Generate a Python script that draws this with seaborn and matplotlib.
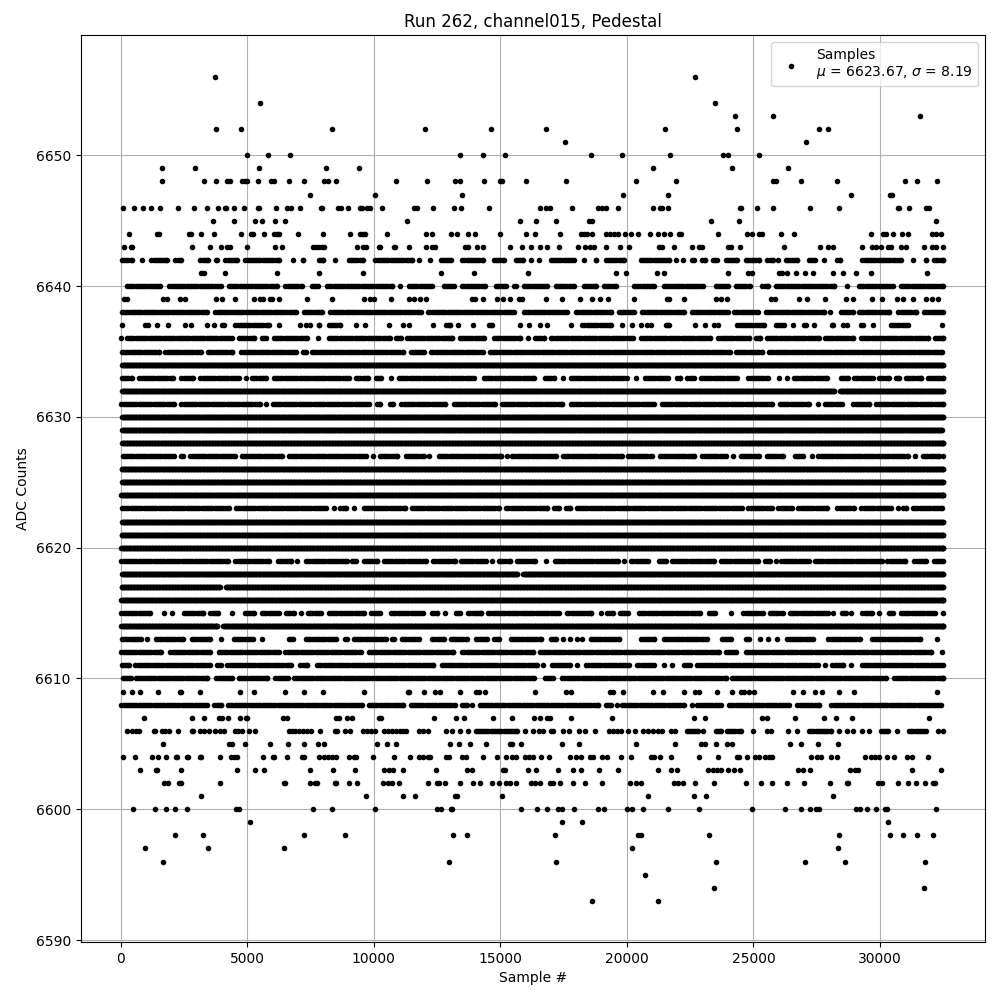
import numpy as np
import pandas as pd
import matplotlib
matplotlib.use("Agg")
import matplotlib.pyplot as plt
import seaborn as sns

# Values. A bare number is one isolated sample; a tuple is a visible
# stretch (first, last sample #) where dots merge and single samples cannot be told apart.
row_6656 = [3728, 22701]
row_6654 = [5507, 23492]
row_6653 = [24282, 25784, 31594]
row_6652 = [3768, 4756, 8353, 12029, 14637, 16811, 21515, 24361, 27602, 27958]
row_6651 = [17562, 27088]
row_6650 = [5000, 5823, 6693, 13412, 14321, 15191, 18590, 19815, 21712, 23808, 24005, 25231]
row_6649 = [1633, 2938, 5467, 8116, 9420, 21040, 24163, 26377]
row_6648 = [1633, 3294, 3768, 4203, 4321, 4795, 4914, 5000, 5428, 5942, 6060, 6653, 7246, 8037, 8195, 8511,
            10883, 12108, 13215, 13412, 14361, 14993, 15072, 16021, 17602, 20369, 21950,
            25784, 25903, 26891, 28313, 31001, 31476, 32266]
row_6647 = [7483, 10052, 13491, 19855, 21633, 28867, 30408, 30487]
row_6646 = [92, 527, 883, 1199, 1555, 2266, 2898, 3412, 3847, 4124, 4163, 4479, 4875, 5428, 5467, 6140, 6574, 6733,
            7088, 7918, 7958, 8590, 8708, 8985, 9460, 9539, 9736, 9855, 10329, 11594, 11713, 12345, 13175, 13451,
            14558, 16574, 16811, 16969, 17839, 18867, 19025, 19183, 19657, 21040, 21317, 21396, 21633,
            24480, 24519, 25152, 25784, 27246, 28393, 30725, 30764, 31159, 31831, 31950]
row_6645 = [3649, 4479, 5309, 5586, 6100, 6495, 11317, 15783, 16416, 17206, 18511, 18630, 23333, 24440, 32226]
row_6644 = [329, 1436, 1515, 2701, 2780, 3175, 3689, 4756, 5151, 5230, 5665, 6060, 6179, 6258, 7009, 8000, 9064,
            9460, 9578, 9657, 10527, 12068, 12305, 13056, 13293, 13728, 14005, 14993, 16021, 16376, 17365,
            18195, 18313, 18432, 18630, 19183, 19341, 19499, 19657, 19934, 20171, 20447, 20922, 21238, 21475, 21712,
            22068, 22148, 23610, 24756, 24954, 25231, 25349, 26100, 26614, 29657, 30132, 30250, 30527, 30883, 31120,
            32068, 32226, 32424]
row_6643 = [132, 408, 448, 2819, 3531, 3965, 4203, 4321, 5000, 6100, 6377, 7602, 7720, 7839, 7958, 8037, 9341,
            9578, 9697, 10210, 10263, 10804, 10856, 11396, 12068, 12305, 12424, 13610, 13728, 14084, 14321, 15388,
            15863, 16218, 16574, 16851, 17325, 18076, 18353, 18550, 18709, 19183, 19736, 20092, 21278, 21396, 21871,
            22582, 22859, 22978, 24005, 24124, 24480, 26219, 27642, 27958, 28156, 29302, 29697, 29855, 30053,
            30329, 30448, 30843, 31041, 31752, 32068, 32226, 32503]
row_6642 = [(-40, 553), 843, (1120, 1910), (2068, 2464), (3056, 3544), (3689, 3913), (4045, 4703), (4835, 6350), 6811,
            (7101, 7312), (7734, 8102), (8392, 8524), (8919, 9683), (9973, 11620), 11778, 12213, (12543, 13136),
            (13399, 14427), (14651, 15244), (15507, 15981), 16218, 16535, (16890, 18010), 18313, (18669, 18867),
            (19064, 19986), (20448, 21765), 21950, 22227, (22464, 22727), (22885, 23175), (23307, 23650),
            (23808, 24440), (24598, 25323), (25455, 25850), 25982, (26179, 26812), (27101, 27523), (27694, 27866),
            (28221, 28511), (29209, 30922), 31318, (31713, 31910), (32042, 32600)]
row_6641 = [3175, 3294, 4124, 6179, 7839, 9578, 12661, 13965, 16100, 19578, 19973, 21198, 21475, 24005, 24796, 24954,
            26021, 26140, 26337, 26693, 27049, 27365, 28156, 28551, 29065, 29657, 31871]
row_6640 = [(158, 1647), (1831, 4045), (4176, 6284), (6416, 7273), (7470, 7892), (8063, 10830), 11027, (11291, 12411),
            (12674, 13267), (13399, 14479), (14716, 15309), (15441, 15705), (15836, 16956), (17088, 18010),
            (18208, 18867), (19000, 19657), (20184, 21172), (21370, 23083), (23412, 24071), (24203, 24967),
            (25257, 25652), (25784, 28287), (28617, 28748), (29078, 30593), (30725, 32600)]
row_6639 = [132, 250, 1673, 1831, 2345, 2543, 3768, 4005, 4519, 5270, 5507, 5626, 5902, 5981, 6258, 7365, 8353, 9618,
            9855, 10012, 10685, 11396, 11594, 11831, 12068, 13886, 14005, 14321, 14875, 15112, 15388, 15744, 15863,
            16811, 17444, 18155, 18630, 18946, 19262, 20289, 21594, 21673, 22266, 23531, 23729, 23966, 25705, 25863,
            26812, 27128, 27839, 28669, 28946, 29697, 30092, 30685, 30922, 31318, 31831, 32068, 32306]
row_6638 = [(-40, 3517), (3649, 7009), (7141, 8063), (8195, 11950), (12055, 15639), (15836, 17720), (17905, 19460),
            (19591, 20355), (20514, 22358), (22464, 24071), (24137, 25257), (25389, 27892), 28024, (28353, 29012),
            (29078, 30461), (30632, 31515), (31647, 32600)]
row_6637 = [40, 962, 1080, 1436, 1871, 2543, 2780, 3412, 3689, (3926, 4176), (4440, 5955), 6245, 7088, 7325, 7470,
            (7734, 7931), (8129, 8748), (9222, 9341), 9657, 10606, 11159, 11396, 12345, (12740, 13109), 13333, 13926,
            (14453, 14782), 15783, 16139, 16574, 16851, (17720, 17879), (18142, 19460), 19789, 20184, 20566, 20777,
            20961, (21436, 21765), 22701, 23096, 23452, 23610, (24269, 25521), (25784, 26311), 26574, (26904, 27167),
            27404, (28024, 28221), 28551, 28709, (29144, 29407), 29736, (30329, 31186), 32464]
row_6636 = [27, (158, 4506), (4572, 5362), (5494, 5823), (5955, 7470), 7786, (8129, 10738), (10790, 11159),
            (11225, 13201), (13294, 14453), (14651, 15876), 16073, (16271, 16825), (16917, 20316), (20448, 23373),
            (23518, 24901), (24994, 25362), (25428, 27694), (27721, 29038), (29144, 32003), (32069, 32600)]
row_6635 = [(-40, 1607), (1673, 3254), (3360, 4506), (4677, 7009), (7101, 7404), (7470, 11265), (11357, 12081),
            (12174, 14400), (14493, 24163), (24203, 25415), (25520, 32543)]
row_6634 = [(-40, 32600)]
row_6633 = [(-40, 553), (646, 2174), (2305, 2964), (3056, 4769), 4967, (5099, 5823), (5955, 9117), (9209, 9868),
            (10000, 10395), 10698, (10896, 14058), (14255, 16429), (16666, 17220), 17483, (17681, 20079), 20342,
            (20606, 21726), (21897, 22200), (22293, 22727), (22820, 24427), (24704, 25652), 26021, 26337,
            (26509, 27984), (28353, 28814), (28880, 29802), (29868, 30461), (30527, 30856), (30922, 31713),
            (31779, 32569)]
row_6632 = [(-40, 28287), (28330, 32600)]
row_6631 = [(-66, 2200), (2305, 5599), 5757, (5915, 9907), (10039, 10342), (10527, 10869), (10999, 12925),
            (13056, 14875), (14954, 17549), (17681, 21146), (21278, 25810), (25942, 27273), 27563, (27721, 28577),
            (28854, 29671), (29763, 32600)]
row_6630 = [(-40, 32600)]
row_6629 = [(-40, 32543)]
row_6628 = [(-40, 32620)]
row_6627 = [(-13, 2200), (2279, 2543), (2661, 4598), (4703, 6482), (6548, 9776), (9868, 10052), (10145, 11027),
            (11159, 12081), 12187, (12477, 15138), 15244, (15375, 17312), (17378, 19881), (19947, 21067),
            (21199, 22754), (22886, 24005), 24203, (24401, 25297), (25428, 26245), (26535, 27036), 27325,
            (27470, 31186), 31396, (31607, 32411), 32500]
row_6626 = [(-60, 32600)]
row_6625 = [(-40, 32600)]
row_6624 = [(-66, 32620)]
row_6623 = [(-40, 4374), (4466, 8195), 8445, (8590, 8985), 9222, (9512, 11344), (11396, 15059), (15138, 16956),
            (17022, 17417), (17483, 17852), (17918, 24625), (24704, 25810), (25889, 26614), (26680, 27984),
            (28221, 29078), (29170, 30527), 30698, (30830, 31107), (31212, 32543)]
row_6622 = [(-40, 32600)]
row_6621 = [(-60, 32600)]
row_6620 = [(-66, 32620)]
row_6619 = [(-66, 4334), (4440, 5968), (6126, 6838), 6969, (7233, 9025), (9051, 9380), (9512, 10237), (10303, 12174),
            (12253, 13294), (13333, 14519), 14690, (14848, 15468), (15546, 16469), 16785, (17049, 19723), 19894,
            (20079, 20909), (21172, 21633), (21699, 23544), (23610, 25257), (25349, 25744), 25876, (26008, 27273),
            (27325, 30158), (30198, 31081), (31265, 31910), (32016, 32620)]
row_6618 = [(-40, 15770), (15810, 32600)]
row_6617 = [(-60, 4018), (4060, 32600)]
row_6616 = [(-66, 32620)]
row_6615 = [(-66, 1252), 1726, 2042, (2398, 3360), (3452, 3939), 4414, (4809, 5362), (5494, 6350), (6443, 6943), 7127,
            (7312, 7997), (8129, 9710), (9815, 10342), (10593, 12042), (12213, 12609), 12819, (13162, 13504),
            (13636, 14348), (14427, 17417), (17549, 18695), 18985, (19130, 19526), (19618, 20119), (20382, 22978),
            (23149, 23584), 24098, (24506, 25455), (25547, 26245), (26337, 28024), 28156, (28393, 28748), 28867,
            (29209, 29763), 29947, (30263, 30593), (30725, 32266), 32477]
row_6614 = [(-66, 3913), (3955, 32620)]
row_6613 = [(-40, 883), 1054, (1304, 2569), (2727, 3623), 3965, (4374, 5322), 5573, (6548, 6890), (7233, 8590),
            (8787, 9025), (9117, 10566), (10632, 10896), (11027, 11884), (12213, 12872), (12938, 13794), (13926, 14585),
            (14651, 15046), (15309, 16693), (16890, 17286), 17483, 17747, 18010, 18208, (18471, 19789), (20448, 21172),
            (21370, 23254), (23650, 24203), (24598, 24928), 25257, 25586, 25916, (26245, 27431), (27866, 29315),
            (29605, 31687), 32240]
row_6612 = [(-66, 1700), (1871, 3623), (3781, 6350), (6416, 9578), (9710, 13241), (13399, 16403), (16456, 23742),
            (23808, 24414), (24598, 32108), 32464]
row_6611 = [(-40, 422), (488, 3623), (3715, 4045), (4124, 6811), (7009, 7470), (7668, 12450), (12582, 16561), 16693,
            (16956, 17852), 18037, (18300, 20184), (20316, 21172), 21475, 21765, (22161, 22596), (22688, 27629), 27839,
            (28024, 28643), 28854, (29183, 32600)]
row_6610 = [(0, 487), (514, 3517), (3689, 4506), (4572, 5889), (6021, 6706), (6759, 16429), (16653, 17180),
            (17351, 24005), (24045, 30329), (30474, 32620)]
row_6609 = [92, 448, 764, 1475, 2345, 2385, 3135, 4717, 5270, 6495, 7246, 8000, 9618, 11357, 11396, 11989, 12424, 12622,
            13412, 14045, 14163, 14400, 16376, 17602, 17800, 19341, 19460, 19855, 21040, 21436, 22266, 22701, 22859,
            23571, 24163, 24519, 24638, 24835, 25033, 26575, 26970, 27444, 27721, 28393, 28986, 32266]
row_6608 = [(-66, 3517), (3610, 4071), (4150, 9644), (9710, 11265), (11357, 13294), (13373, 13768), 13886,
            (14084, 18959), (19064, 19460), 19591, (19723, 22358), 22582, (22688, 23808), (23940, 26509),
            (26640, 27694), (27984, 32503)]
row_6607 = [922, 2819, 3294, 3887, 4005, 4242, 4717, 4954, 5000, 6416, 6574, 8511, 8629, 8946, 9143, 10210, 10290, 12385,
            13254, 13570, 14716, 15467, 16337, 16574, 16851, 16969, 17799, 19420, 22662, 23096, 25349, 25547, 26654,
            27800, 28274, 28906, 31950]
row_6606 = [250, 448, 606, 724, 1318, 1357, 1633, 1752, 1910, 2266, 2819, 2859, 3135, 3294, 3491, 3728, 3926, 4084,
            4519, 4637, 4795, 5072, 5309, 6653, 6772, 6890, 7048, 7206, 7365, 7523, 7879, 8472, 8551, 8867, 9064,
            9578, 9736, 9894, 10052, 10408, 10566, 10724, 10896, 11054, 11159, 11291, 11792, 11950, 12147, 12859,
            13096, 13412, 13715, (13926, 15770), 15981, 16298, 16535, 16693, 17009, 17088, 17483, 17720, 18115, 18353,
            18748, 19301, 19460, 19618, 19750, 20052, 20329, 20645, 20843, 21040, 21238, 21396, 21752, 21910,
            (22266, 22885), 23017, (23412, 23800), (23850, 24600), 24994, 25547, 25705, 26377, 26706, (27100, 28156),
            28393, 28683, 28946, 29302, 29578, (29934, 30421), 30685, (31054, 31910), 32306, 32503]
row_6605 = [1673, 4282, 4400, 4914, 5902, 6614, 7246, 7799, 8037, 10131, 10527, 10883, 13017, 13373, 13807, 14440, 15388,
            15467, 15823, 17444, 18115, 20369, 21910, 22912, 23070, 23531, 23966, 24163, 26456, 26891, 27563, 28353]
row_6604 = [92, 566, 1238, 1475, 1792, 2187, 2226, 2622, 2661, 3135, 3175, 3926, 4361, 4479, 4598, 5626, 6021, 6060, 6574,
            7167, 7246, 7839, 8037, 8195, 8353, 8511, 9025, 9222, 9301, 9973, 10803, 11436, 11792, 11950, 12147, 12226,
            12859, 12977, 13491, 13649, 14321, 14875, 15230, 15467, 15625, 15981, 16139, 16298, 16614, 16930, 17760,
            17997, 18195, 18550, 18669, 19025, 19222, 19776, 20171, 20961, 21080, 21317, 21752, 22859, 23610, 24361,
            24440, 24756, 25073, 25231, 25468, 25626, 25744, 27286, 27523, 27681, 28076, 28314, 29420, 29657, 29815,
            29973, 30290, 30567, 31080, 31278, 31910]
row_6603 = [764, 1396, 1436, 2385, 4598, 5309, 5665, 7483, 8392, 9262, 10408, 10606, 10764, 11159, 12464, 13689, 13886,
            15112, 15191, 16100, 16416, 17286, 17878, 18195, 18906, 19657, 21238, 21752, 21989, 23215, 23412, 23571,
            23729, 24005, 24242, 24480, 26772, 26970, 27246, 28827, 29025, 29144, 31278, 32424]
row_6602 = [1713, 1871, 2306, 2385, 3926, 6456, 6495, 7483, 7681, 7760, 8472, 8511, 9025, 9341, 10369, 10566, 10724, 11001,
            12147, 12503, 12582, 12819, 13412, 13926, 14203, 14677, 14954, 15230, 15388, 15625, 16219, 16376, 16574,
            16969, 17088, 17365, 17878, 18353, 19025, 20131, 20369, 20566, 21871, 22029, 22227, 22701, 23452, 24717,
            25310, 25744, 26337, 27009, 28037, 28709, 28748, 29934, 30092, 30725, 31120, 31436, 31792, 32108, 32187]
row_6601 = [3175, 9697, 11159, 11634, 13215, 13294, 15072, 20843, 22662, 23136, 28156]
row_6600 = [487, 1357, 1792, 2147, 2622, 4559, 4677, 7602, 8353, 10052, 12503, 12661, 13056, 13096, 15823, 16456, 16851,
            17286, 17444, 17918, 18867, 19104, 20013, 20211, 20645, 21633, 22859, 24954, 26258, 26891, 27246, 27484,
            27602, 29065, 29223, 29499, 29855, 30211, 30290, 32227]
row_6599 = [5112, 17444, 18234, 30329]
row_6598 = [2147, 3254, 7246, 8867, 13136, 13689, 17167, 20448, 20566, 23254, 28393, 30408, 30922, 31475, 32108]
row_6597 = [962, 3452, 6456, 20211, 28353]
row_6596 = [1673, 12977, 17206, 23531, 27049, 28630, 31792]
row_6595 = [20724]
row_6594 = [23452, 31752]
row_6593 = [18630, 21238]

all_rows = [
    (6656, row_6656), (6654, row_6654), (6653, row_6653), (6652, row_6652), (6651, row_6651), (6650, row_6650),
    (6649, row_6649), (6648, row_6648), (6647, row_6647), (6646, row_6646), (6645, row_6645), (6644, row_6644),
    (6643, row_6643), (6642, row_6642), (6641, row_6641), (6640, row_6640), (6639, row_6639), (6638, row_6638),
    (6637, row_6637), (6636, row_6636), (6635, row_6635), (6634, row_6634), (6633, row_6633), (6632, row_6632),
    (6631, row_6631), (6630, row_6630), (6629, row_6629), (6628, row_6628), (6627, row_6627), (6626, row_6626),
    (6625, row_6625), (6624, row_6624), (6623, row_6623), (6622, row_6622), (6621, row_6621), (6620, row_6620),
    (6619, row_6619), (6618, row_6618), (6617, row_6617), (6616, row_6616), (6615, row_6615), (6614, row_6614),
    (6613, row_6613), (6612, row_6612), (6611, row_6611), (6610, row_6610), (6609, row_6609), (6608, row_6608),
    (6607, row_6607), (6606, row_6606), (6605, row_6605), (6604, row_6604), (6603, row_6603), (6602, row_6602),
    (6601, row_6601), (6600, row_6600), (6599, row_6599), (6598, row_6598), (6597, row_6597), (6596, row_6596),
    (6595, row_6595), (6594, row_6594), (6593, row_6593),
]

DOT_RADIUS = 95      # a dot reaches this many samples to each side of its centre
SOLID_SPACING = 30   # dot spacing in rows that are one solid band (these are not individual samples)
BEADED_SPACING = 85  # dot spacing in the merged stretches of rows with gaps

samples, counts = [], []
for level, items in all_rows:
    spacing = SOLID_SPACING if len(items) <= 2 else BEADED_SPACING
    for item in items:
        if isinstance(item, tuple):
            first, last = item[0] + DOT_RADIUS, item[1] - DOT_RADIUS
            centres = [(first + last) / 2] if last <= first else list(np.arange(first, last, spacing)) + [last]
        else:
            centres = [item]
        for c in centres:
            samples.append(min(max(c, 0), 32500))
            counts.append(level)

df = pd.DataFrame({"Sample #": samples, "ADC Counts": counts})

fig, ax = plt.subplots(figsize=(10, 10), dpi=100)
sns.scatterplot(data=df, x="Sample #", y="ADC Counts", ax=ax, marker=".", s=36, color="black",
                edgecolor="black", linewidth=1.0, zorder=3,
                label="Samples\n$\\mu$ = 6623.67, $\\sigma$ = 8.19")
ax.set_title("Run 262, channel015, Pedestal")
ax.set_xlabel("Sample #")
ax.set_ylabel("ADC Counts")
ax.grid(True)
ax.set_xlim(-1585, 34145)
ax.set_ylim(6589.85, 6659.2)
ax.legend(loc="upper right")
fig.subplots_adjust(left=0.0805, right=0.985, top=0.965, bottom=0.058)
fig.savefig("out.png", dpi=100)
